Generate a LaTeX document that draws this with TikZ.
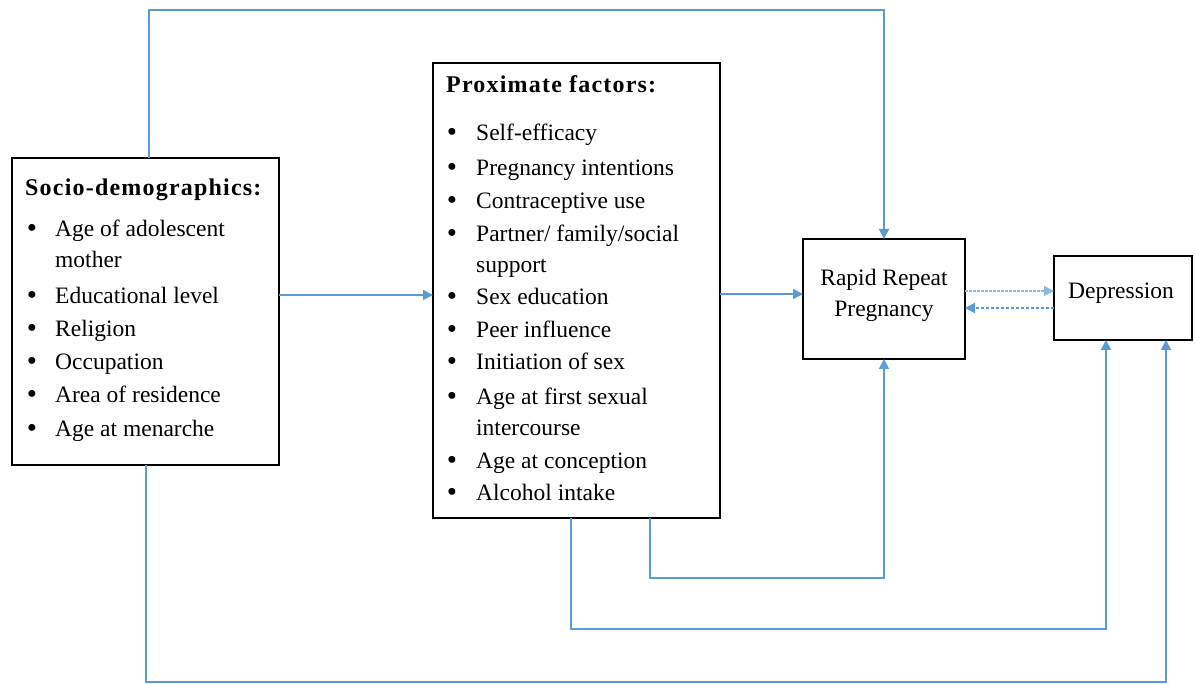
\documentclass[tikz,border=0pt]{standalone}
\usepackage{fontspec}
\setmainfont{Liberation Serif}
\usetikzlibrary{arrows.meta}
\definecolor{lineblue}{HTML}{5B9BD5}
\definecolor{lightblue}{HTML}{8DB8E2}
\tikzset{
  box/.style={draw=black, line width=2pt, rectangle, anchor=north west, inner sep=0pt, outer sep=0pt},
  txt/.style={inner sep=0pt, anchor=base west, font=\fontsize{23.5}{28}\selectfont},
  ctxt/.style={inner sep=0pt, anchor=base, font=\fontsize{23.5}{28}\selectfont},
  bul/.style={inner sep=0pt, anchor=base, font=\fontsize{29}{30}\selectfont},
  head/.style={inner sep=0pt, anchor=base west, font=\fontsize{24}{28}\selectfont\bfseries\addfontfeature{LetterSpace=5}},
  conn/.style={draw=lineblue, line width=1.8pt},
  arr/.style={conn, -{Triangle[length=10pt,width=10pt]}},
  dotarr/.style={draw=lightblue, line width=1.8pt, dash pattern=on 2.5pt off 1.5pt, -{Triangle[length=10pt,width=10pt]}},
  dasharr/.style={draw=lineblue, line width=1.8pt, dash pattern=on 3.5pt off 1.5pt, -{Triangle[length=10pt,width=10pt]}}
}
\begin{document}
\begin{tikzpicture}[x=1pt,y=-1pt]
\useasboundingbox[fill=white] (0,0) rectangle (1195,684);

% boxes
\node[box, minimum width=267pt, minimum height=307pt] (socio) at (12,158) {};
\node[box, minimum width=287pt, minimum height=455pt] (prox) at (433,63) {};
\node[box, minimum width=162pt, minimum height=120pt] (rrp) at (803,239) {};
\node[box, minimum width=138pt, minimum height=84pt] (dep) at (1054,256) {};

% socio text
\node[head] (sh) at (25,196) {Socio-demographics:};
\node[bul] (sb1) at (32,238) {\textbullet};
\node[txt] (s1) at (55,237) {Age of adolescent};
\node[txt] (s1b) at (55,268) {mother};
\node[bul] (sb2) at (32,305) {\textbullet};
\node[txt] (s2) at (55,304) {Educational level};
\node[bul] (sb3) at (32,338) {\textbullet};
\node[txt] (s3) at (55,337) {Religion};
\node[bul] (sb4) at (32,371) {\textbullet};
\node[txt] (s4) at (55,370) {Occupation};
\node[bul] (sb5) at (32,404) {\textbullet};
\node[txt] (s5) at (55,403) {Area of residence};
\node[bul] (sb6) at (32,438) {\textbullet};
\node[txt] (s6) at (55,437) {Age at menarche};

% proximate text
\node[head] (ph) at (446,93) {Proximate factors:};
\node[bul] (pb1) at (452,142) {\textbullet};
\node[txt] (p1) at (476,141) {Self-efficacy};
\node[bul] (pb2) at (452,177) {\textbullet};
\node[txt] (p2) at (476,176) {Pregnancy intentions};
\node[bul] (pb3) at (452,210) {\textbullet};
\node[txt] (p3) at (476,209) {Contraceptive use};
\node[bul] (pb4) at (452,243) {\textbullet};
\node[txt] (p4) at (476,242) {Partner/ family/social};
\node[txt] (p4b) at (476,273) {support};
\node[bul] (pb5) at (452,306) {\textbullet};
\node[txt] (p5) at (476,305) {Sex education};
\node[bul] (pb6) at (452,339) {\textbullet};
\node[txt] (p6) at (476,338) {Peer influence};
\node[bul] (pb7) at (452,371) {\textbullet};
\node[txt] (p7) at (476,370) {Initiation of sex};
\node[bul] (pb8) at (452,406) {\textbullet};
\node[txt] (p8) at (476,405) {Age at first sexual};
\node[txt] (p8b) at (476,436) {intercourse};
\node[bul] (pb9) at (452,470) {\textbullet};
\node[txt] (p9) at (476,469) {Age at conception};
\node[bul] (pb10) at (452,502) {\textbullet};
\node[txt] (p10) at (476,501) {Alcohol intake};

% rrp and depression text
\node[ctxt] (r1) at (884,286) {Rapid Repeat};
\node[ctxt] (r2) at (884,317) {Pregnancy};
\node[txt] (d1) at (1068,299) {Depression};

% helper coordinates
\coordinate (ytop) at (0,10);
\coordinate (xtop) at (149,0);
\coordinate (ya) at (0,295);
\coordinate (yb) at (0,294);
\coordinate (yc) at (0,291);
\coordinate (yd) at (0,308);
\coordinate (x3) at (650,0);
\coordinate (y3) at (0,578);
\coordinate (x4) at (571,0);
\coordinate (y4) at (0,629);
\coordinate (xd1) at (1106,0);
\coordinate (x5) at (146,0);
\coordinate (y5) at (0,682);
\coordinate (xd2) at (1166,0);

% connectors
\draw[arr] (socio.north -| xtop) -- (xtop |- ytop) -- (rrp.north |- ytop) -- (rrp.north);
\draw[arr] (socio.east |- ya) -- (prox.west |- ya);
\draw[arr] (prox.east |- yb) -- (rrp.west |- yb);
\draw[dotarr] (rrp.east |- yc) -- (dep.west |- yc);
\draw[dasharr] (dep.west |- yd) -- (rrp.east |- yd);
\draw[arr] (prox.south -| x3) -- (x3 |- y3) -- (rrp.south |- y3) -- (rrp.south);
\draw[arr] (prox.south -| x4) -- (x4 |- y4) -- (xd1 |- y4) -- (dep.south -| xd1);
\draw[arr] (socio.south -| x5) -- (x5 |- y5) -- (xd2 |- y5) -- (dep.south -| xd2);
\end{tikzpicture}
\end{document}
